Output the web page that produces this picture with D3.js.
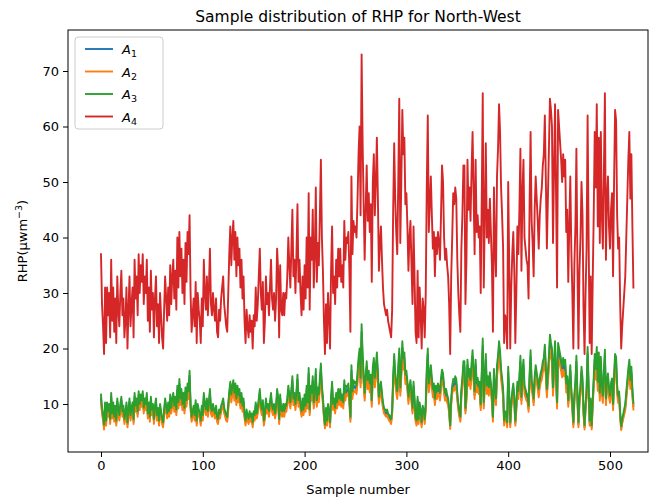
<!DOCTYPE html>
<html>
<head>
<meta charset="utf-8">
<script src="https://cdn.jsdelivr.net/npm/d3@7"></script>
<style>
  body { margin: 0; background: #fff; }
  svg { font-family: "DejaVu Sans", sans-serif; }
</style>
</head>
<body>
<svg id="chart" width="650" height="502"></svg>
<script>
// A4 (red), one value per sample
var a4 = [
  37,28,24,19,31,21,31,26,30,22, 36,25,31,23,29,21,33,27,24,30,
  34,26,29,22,25,31,20,27,33,24, 28,31,22,36,29,33,26,37,30,35,
  32,37,28,33,30,36,25,31,23,34, 27,30,22,29,33,24,28,21,30,26,
  22,20,27,33,29,25,31,26,35,28, 33,36,29,34,27,40,31,41,33,38,
  30,36,28,39,32,41,37,44,30,23, 26,29,24,32,21,30,27,25,21,29,
  24,36,30,27,33,26,31,38,28,26, 30,27,25,29,23,22,27,25,29,31,
  33,28,26,24,23,30,37,42,35,40, 43,36,41,33,40,35,38,31,36,29,
  33,25,21,27,24,22,26,23,25,20, 26,24,31,25,28,33,38,30,27,32,
  21,25,33,28,30,26,31,36,29,27, 30,25,29,38,34,22,35,27,26,30,
  26,30,29,33,40,35,31,38,45,33, 36,30,37,46,32,36,30,26,33,27,
  35,29,40,31,48,27,40,36,45,31, 37,49,32,39,35,44,54,40,34,25,
  19,28,21,30,26,20,34,42,30,33, 28,36,31,38,33,38,32,35,31,43,
  36,40,39,41,34,23,51,37,43,41, 42,40,47,55,60,44,73,57,46,36,
  45,53,43,48,41,46,32,50,55,44, 50,58,47,34,39,42,36,31,28,27,
  26,27,25,24,23,22,27,45,57,47, 41,37,50,65,39,50,63,55,58,46,
  48,42,34,40,43,35,28,42,33,23, 21,34,22,31,26,20,29,27,22,30,
  49,62,41,46,51,44,38,41,33,40, 37,41,39,36,44,53,50,40,36,38,
  35,33,28,19,33,40,48,46,49,47, 36,30,26,23,38,44,53,53,28,36,
  54,45,49,43,52,59,48,37,54,41, 44,40,42,30,47,66,31,44,57,40,
  45,39,47,41,35,23,49,38,33,51, 56,64,59,49,44,38,21,26,25,20,
  50,35,20,31,37,41,34,21,30,42, 37,45,56,34,48,54,40,38,36,35,
  29,46,59,43,39,33,45,51,47,43, 38,44,47,49,53,55,62,50,38,47,
  56,65,63,60,39,52,64,48,31,63, 60,57,54,50,55,51,54,41,45,32,
  42,51,38,30,20,35,42,56,35,20, 34,40,50,44,27,19,30,38,62,40,
  21,33,19,32,44,59,49,64,42,58, 39,59,44,38,52,66,36,47,51,42,
  38,45,48,33,50,63,61,44,38,40, 28,20,24,27,30,33,40,47,54,59,
  47,55,42,31
];

// A3 (green)
var a3 = [
  11.7,9.3,8,6.3,10.3,7,10.3,8.7,10,7.3, 12,8.3,10.3,7.7,9.7,7,11,9,8,10,
  11.3,8.7,9.7,7.3,8.3,10.3,6.7,9,11,8, 9.3,10.3,7.3,12,9.7,11,8.7,12.3,10,11.7,
  10.7,12.3,9.3,11,10,12,8.3,10.3,7.7,11.3, 9,10,7.3,9.7,11,8,9.3,7,10,8.7,
  7.3,6.7,9,11,9.7,8.3,10.3,8.7,11.7,9.3, 11,12,9.7,11.3,9,13.3,10.3,14.5,11,12.7,
  10,12,9.3,13,10.7,13.7,12.3,16,10,7.7, 8.7,9.7,8,10.7,7,10,9,8.3,7,9.7,
  8,12,10,9,11,8.7,10.3,12.7,9.3,8.7, 10,9,8.3,9.7,7.7,7.3,9,8.3,9.7,10.3,
  11,9.3,8.7,8,7.7,10,12.3,14,11.7,13.3, 14.3,12,13.7,11,13.3,11.7,12.7,10.3,12,9.7,
  11,8.3,7,9,8,7.3,8.7,7.7,8.3,6.7, 8.7,8,10.3,8.3,9.3,11,12.7,10,9,10.7,
  7,8.3,11,9.3,10,8.7,10.3,12,9.7,9, 10,8.3,9.7,12.7,11.3,7.3,11.7,9,8.7,10,
  8.7,10,9.7,11,13.3,11.7,10.3,12.7,15,11, 12,10,12.3,15.3,10.7,12,10,8.7,11,9,
  11.7,9.7,13.3,10.3,16.5,9,13.3,12,15,10.3, 12.3,16.3,10.7,13,11.7,14.7,17.3,13.3,11.3,8.3,
  6.3,9.3,7,10,8.7,6.7,11.3,14,10,11, 9.3,12,10.3,12.7,11,12.7,10.7,11.7,10.3,14.3,
  12,13.3,13,13.7,11.3,7.7,17,12.3,14.3,13.7, 14,13.3,15.7,18.3,20,14.7,24.4,19,15.3,12,
  15,17.7,14.3,16,13.7,15.3,10.7,16.7,18.3,14.7, 16.7,19.3,15.7,11.3,13,14,12,10.3,9.3,9,
  8.7,9,8.3,8,7.7,7.3,9,15,19,15.7, 13.7,12.3,16.7,20,13,16.7,21.3,18.3,19.3,15.3,
  16,14,11.3,13.3,14.3,11.7,9.3,14,11,7.7, 7,11.3,7.3,10.3,8.7,6.7,9.7,9,7.3,10,
  16.3,20,13.7,15.3,17,14.7,12.7,13.7,11,13.3, 12.3,13.7,13,12,14.7,16.2,15.5,13.3,12,12.7,
  11.7,11,9.3,6.2,11,13.3,14.5,14,15,14.5, 12,10,8.7,7.7,12.7,14.7,17.7,17.7,9.3,12,
  18,15,16.3,14.3,17.3,19.7,16,12.3,18,13.7, 14.7,13.3,14,10,15.7,21.8,10.3,14.7,19,13.3,
  15,13,15.7,13.7,11.7,7.7,16.3,12.7,11,17, 18.7,21.3,19.5,16.3,14.7,12.7,7,8.7,8.3,6.7,
  16.7,11.7,6.7,10.3,12.3,13.7,11.3,7,10,14, 12.3,15,18.7,11.3,16,18,13.3,12.7,12,11.7,
  9.7,15.3,19.7,14.3,13,11,15,17,15.7,14.3, 12.7,14.7,15.7,16.3,17.7,18.3,20.7,16.7,12.7,15.7,
  18.7,22.5,21,20,13,17.3,21.3,16,10.3,21, 20,19,18,16.7,18.3,17,18,13.7,15,10.7,
  14,17,12.7,10,6.7,11.7,14,18.7,11.7,6.7, 11.3,13.3,16.7,14.7,9,6.2,10,12.7,20.3,13.3,
  7,11,6.2,10.7,14.7,19,16.3,20.3,14,19.3, 12,18.5,13.5,11.5,16,19.8,11,14.3,15.5,12.8,
  11.5,13.8,14.6,10,15.2,19,18.5,13.4,11.5,12.2, 8.5,6,7.3,8.2,9.1,10,12.2,14.3,16.4,18,
  14.3,16.7,12.8,10.2
];

// A2 (orange)
var a2 = [
  10.2,8.3,7,5.4,9.2,6.1,9.2,7.7,8.9,6.4, 10.6,7.4,9.2,6.8,8.6,6.1,9.8,8,7,8.9,
  10,7.7,8.6,6.4,7.4,9.2,5.8,8,9.8,7, 8.3,9.2,6.4,10.6,8.6,9.8,7.7,10.9,8.9,10.3,
  9.5,10.9,8.3,9.8,8.9,10.6,7.4,9.2,6.8,10, 8,8.9,6.4,8.6,9.8,7,8.3,6.1,8.9,7.7,
  6.4,5.8,8,9.8,8.6,7.4,9.2,7.7,10.3,8.3, 9.8,10.6,8.6,10,8,11.8,9.2,12.8,9.8,11.2,
  8.9,10.6,8.3,11.5,9.5,12.1,10.9,14.1,8.9,6.8, 7.7,8.6,7,9.5,6.1,8.9,8,7.4,6.1,8.6,
  7,10.6,8.9,8,9.8,7.7,9.2,11.2,8.3,7.7, 8.9,8,7.4,8.6,6.8,6.4,8,7.4,8.6,9.2,
  9.8,8.3,7.7,7,6.8,8.9,10.9,12.4,10.3,11.8, 12.7,10.6,12.1,9.8,11.8,10.3,11.2,9.2,10.6,8.6,
  9.8,7.4,6.1,8,7,6.4,7.7,6.8,7.4,5.8, 7.7,7,9.2,7.4,8.3,9.8,11.2,8.9,8,9.5,
  6.1,7.4,9.8,8.3,8.9,7.7,9.2,10.6,8.6,8, 8.9,7.4,8.6,11.2,10,6.4,10.3,8,7.7,8.9,
  7.7,8.9,8.6,9.8,11.8,10.3,9.2,11.2,13.3,9.8, 10.6,8.9,10.9,13.6,9.5,10.6,8.9,7.7,9.8,8,
  10.3,8.6,11.8,9.2,14.6,8,11.8,10.6,13.3,9.2, 10.9,14.4,9.5,11.5,10.3,13,15.3,11.8,10,7.4,
  5.6,8.3,6.1,8.9,7.7,5.8,10,12.4,8.9,9.8, 8.3,10.6,9.2,11.2,9.8,11.2,9.5,10.3,9.2,12.7,
  10.6,11.8,11.5,12.1,10,6.8,15,10.9,12.7,12.1, 12.4,11.8,13.9,16.2,17.7,13,21.6,16.8,13.6,10.6,
  13.3,15.7,12.7,14.1,12.1,13.6,9.5,14.8,16.2,13, 14.8,17.1,13.9,10,11.5,12.4,10.6,9.2,8.3,8,
  7.7,8,7.4,7,6.8,6.4,8,13.3,16.8,13.9, 12.1,10.9,14.8,17.7,11.5,14.8,18.9,16.2,17.1,13.6,
  14.1,12.4,10,11.8,12.7,10.3,8.3,12.4,9.8,6.8, 6.1,10,6.4,9.2,7.7,5.8,8.6,8,6.4,8.9,
  14.4,17.7,12.1,13.6,15,13,11.2,12.1,9.8,11.8, 10.9,12.1,11.5,10.6,13,14.3,13.7,11.8,10.6,11.2,
  10.3,9.8,8.3,5.5,9.8,11.8,12.8,12.4,13.3,12.8, 10.6,8.9,7.7,6.8,11.2,13,15.7,15.7,8.3,10.6,
  15.9,13.3,14.4,12.7,15.3,17.4,14.1,10.9,15.9,12.1, 13,11.8,12.4,8.9,13.9,19.3,9.2,13,16.8,11.8,
  13.3,11.5,13.9,12.1,10.3,6.8,14.4,11.2,9.8,15, 16.5,18.9,17.2,14.4,13,11.2,6.1,7.7,7.4,5.8,
  14.8,10.3,5.8,9.2,10.9,12.1,10,6.1,8.9,12.4, 10.9,13.3,16.5,10,14.1,15.9,11.8,11.2,10.6,10.3,
  8.6,13.6,17.4,12.7,11.5,9.8,13.3,15,13.9,12.7, 11.2,13,13.9,14.4,15.7,16.2,18.3,14.8,11.2,13.9,
  16.5,19.9,18.6,17.7,11.5,15.3,18.9,14.1,9.2,18.6, 17.7,16.8,15.9,14.8,16.2,15,15.9,12.1,13.3,9.5,
  12.4,15,11.2,8.9,5.8,10.3,12.4,16.5,10.3,5.8, 10,11.8,14.8,13,8,5.4,8.9,11.2,17.9,11.8,
  6.1,9.8,5.4,9.5,13,16.8,14.4,17.9,12.4,17.1, 10.6,16.4,12,10.2,14.1,17.5,9.8,12.7,13.7,11.3,
  10.2,12.2,12.9,8.9,13.4,16.8,16.4,11.9,10.2,10.8, 7.5,5.3,6.5,7.3,8.1,8.9,10.8,12.7,14.5,15.9,
  12.7,14.8,11.3,9
];

// A1 (blue), mostly hidden under A2/A3
var a1 = [
  11,8.8,7.5,5.9,9.8,6.6,9.8,8.2,9.5,6.9, 11.3,7.9,9.8,7.3,9.2,6.6,10.4,8.5,7.5,9.5,
  10.7,8.2,9.2,6.9,7.9,9.8,6.3,8.5,10.4,7.5, 8.8,9.8,6.9,11.3,9.2,10.4,8.2,11.6,9.5,11,
  10.1,11.6,8.8,10.4,9.5,11.3,7.9,9.8,7.3,10.7, 8.5,9.5,6.9,9.2,10.4,7.5,8.8,6.6,9.5,8.2,
  6.9,6.3,8.5,10.4,9.2,7.9,9.8,8.2,11,8.8, 10.4,11.3,9.2,10.7,8.5,12.5,9.8,13.6,10.4,12,
  9.5,11.3,8.8,12.2,10.1,12.9,11.6,15.1,9.5,7.3, 8.2,9.2,7.5,10.1,6.6,9.5,8.5,7.9,6.6,9.2,
  7.5,11.3,9.5,8.5,10.4,8.2,9.8,12,8.8,8.2, 9.5,8.5,7.9,9.2,7.3,6.9,8.5,7.9,9.2,9.8,
  10.4,8.8,8.2,7.5,7.3,9.5,11.6,13.2,11,12.5, 13.5,11.3,12.9,10.4,12.5,11,12,9.8,11.3,9.2,
  10.4,7.9,6.6,8.5,7.5,6.9,8.2,7.3,7.9,6.3, 8.2,7.5,9.8,7.9,8.8,10.4,12,9.5,8.5,10.1,
  6.6,7.9,10.4,8.8,9.5,8.2,9.8,11.3,9.2,8.5, 9.5,7.9,9.2,12,10.7,6.9,11,8.5,8.2,9.5,
  8.2,9.5,9.2,10.4,12.5,11,9.8,12,14.1,10.4, 11.3,9.5,11.6,14.4,10.1,11.3,9.5,8.2,10.4,8.5,
  11,9.2,12.5,9.8,15.5,8.5,12.5,11.3,14.1,9.8, 11.6,15.3,10.1,12.2,11,13.8,16.3,12.5,10.7,7.9,
  6,8.8,6.6,9.5,8.2,6.3,10.7,13.2,9.5,10.4, 8.8,11.3,9.8,12,10.4,12,10.1,11,9.8,13.5,
  11.3,12.5,12.2,12.9,10.7,7.3,16,11.6,13.5,12.9, 13.2,12.5,14.8,17.3,18.9,13.8,23,17.9,14.4,11.3,
  14.1,16.7,13.5,15.1,12.9,14.4,10.1,15.7,17.3,13.8, 15.7,18.2,14.8,10.7,12.2,13.2,11.3,9.8,8.8,8.5,
  8.2,8.5,7.9,7.5,7.3,6.9,8.5,14.1,17.9,14.8, 12.9,11.6,15.7,18.9,12.2,15.7,20.1,17.3,18.2,14.4,
  15.1,13.2,10.7,12.5,13.5,11,8.8,13.2,10.4,7.3, 6.6,10.7,6.9,9.8,8.2,6.3,9.2,8.5,6.9,9.5,
  15.3,18.9,12.9,14.4,16,13.8,12,12.9,10.4,12.5, 11.6,12.9,12.2,11.3,13.8,15.2,14.6,12.5,11.3,12,
  11,10.4,8.8,5.9,10.4,12.5,13.6,13.2,14.1,13.6, 11.3,9.5,8.2,7.3,12,13.8,16.7,16.7,8.8,11.3,
  17,14.1,15.3,13.5,16.3,18.5,15.1,11.6,17,12.9, 13.8,12.5,13.2,9.5,14.8,20.5,9.8,13.8,17.9,12.5,
  14.1,12.2,14.8,12.9,11,7.3,15.3,12,10.4,16, 17.6,20.1,18.3,15.3,13.8,12,6.6,8.2,7.9,6.3,
  15.7,11,6.3,9.8,11.6,12.9,10.7,6.6,9.5,13.2, 11.6,14.1,17.6,10.7,15.1,17,12.5,12,11.3,11,
  9.2,14.4,18.5,13.5,12.2,10.4,14.1,16,14.8,13.5, 12,13.8,14.8,15.3,16.7,17.3,19.6,15.7,12,14.8,
  17.6,21.2,19.8,18.9,12.2,16.3,20.1,15.1,9.8,19.8, 18.9,17.9,17,15.7,17.3,16,17,12.9,14.1,10.1,
  13.2,16,12,9.5,6.3,11,13.2,17.6,11,6.3, 10.7,12.5,15.7,13.8,8.5,5.8,9.5,12,19.1,12.5,
  6.6,10.4,5.8,10.1,13.8,17.9,15.3,19.1,13.2,18.2, 11.3,17.4,12.7,10.8,15,18.6,10.4,13.5,14.6,12,
  10.8,13,13.7,9.5,14.3,17.9,17.4,12.6,10.8,11.5, 8,5.6,6.9,7.7,8.6,9.5,11.5,13.5,15.4,17,
  13.5,15.7,12,9.6
];

var seriesKeys = ["1", "2", "3", "4"];
var seriesColors = ["#1f77b4", "#ff7f0e", "#2ca02c", "#d62728"];
var xTicks = [0, 100, 200, 300, 400, 500];
var yTicks = [10, 20, 30, 40, 50, 60, 70];

var allSeries = [a1, a2, a3, a4];

var svg = d3.select("#chart");
var frame = {left: 68, right: 648, top: 30, bottom: 452};

var x = d3.scaleLinear().domain([0, 500]).range([101, 610]);
var y = d3.scaleLinear().domain([10, 70]).range([404, 71]);

svg.append("clipPath").attr("id", "plotclip")
  .append("rect")
    .attr("x", frame.left).attr("y", frame.top)
    .attr("width", frame.right - frame.left)
    .attr("height", frame.bottom - frame.top);

var line = d3.line()
  .x(function(d, i) { return x(i); })
  .y(function(d) { return y(d); });

svg.append("g").attr("clip-path", "url(#plotclip)")
  .selectAll("path")
    .data(allSeries)
  .enter().append("path")
    .attr("d", line)
    .attr("fill", "none")
    .attr("stroke", function(d, i) { return seriesColors[i]; })
    .attr("stroke-width", 1.9)
    .attr("stroke-linejoin", "round")
    .attr("stroke-linecap", "square");

// axes
var xAxis = svg.append("g")
  .attr("transform", "translate(0," + frame.bottom + ")")
  .call(d3.axisBottom(x).tickValues(xTicks).tickSize(5).tickPadding(4));
var yAxis = svg.append("g")
  .attr("transform", "translate(" + frame.left + ",0)")
  .call(d3.axisLeft(y).tickValues(yTicks).tickSize(5).tickPadding(4));

[xAxis, yAxis].forEach(function(g) {
  g.select(".domain").remove();
  g.selectAll("line").attr("stroke", "#000").attr("stroke-width", 1);
  g.selectAll("text").attr("fill", "#000")
    .style("font-size", "13px")
    .style("font-family", "DejaVu Sans, sans-serif");
});

svg.append("rect")
  .attr("x", frame.left).attr("y", frame.top)
  .attr("width", frame.right - frame.left)
  .attr("height", frame.bottom - frame.top)
  .attr("fill", "none").attr("stroke", "#000").attr("stroke-width", 1);

// titles
svg.append("text")
  .attr("x", (frame.left + frame.right) / 2).attr("y", 22)
  .attr("text-anchor", "middle")
  .style("font-size", "15.5px")
  .text("Sample distribution of RHP for North-West");

svg.append("text")
  .attr("x", (frame.left + frame.right) / 2).attr("y", 494)
  .attr("text-anchor", "middle")
  .style("font-size", "13px")
  .text("Sample number");

var ylab = svg.append("text")
  .attr("transform", "translate(27," + ((frame.top + frame.bottom) / 2) + ") rotate(-90)")
  .attr("text-anchor", "middle")
  .style("font-size", "13px");
ylab.append("tspan").text("RHP(\u03bcwm");
ylab.append("tspan").attr("dy", -5).style("font-size", "9.5px").text("\u22123");
ylab.append("tspan").attr("dy", 5).text(")");

// legend
var legend = svg.append("g").attr("transform", "translate(75,37)");
legend.append("rect")
  .attr("width", 88).attr("height", 92)
  .attr("rx", 3).attr("ry", 3)
  .attr("fill", "#fff").attr("fill-opacity", 0.8)
  .attr("stroke", "#cccccc").attr("stroke-width", 1);

var items = legend.selectAll("g.item")
    .data(seriesKeys)
  .enter().append("g")
    .attr("class", "item")
    .attr("transform", function(d, i) { return "translate(0," + (12 + i * 22.5) + ")"; });

items.append("line")
  .attr("x1", 10).attr("x2", 38)
  .attr("stroke", function(d, i) { return seriesColors[i]; })
  .attr("stroke-width", 1.9);

var lt = items.append("text")
  .attr("x", 47).attr("y", 5)
  .style("font-size", "13px");
lt.append("tspan").style("font-style", "italic").text("A");
lt.append("tspan").attr("dy", 3).style("font-size", "9.5px").text(function(d) { return d; });
</script>
</body>
</html>
